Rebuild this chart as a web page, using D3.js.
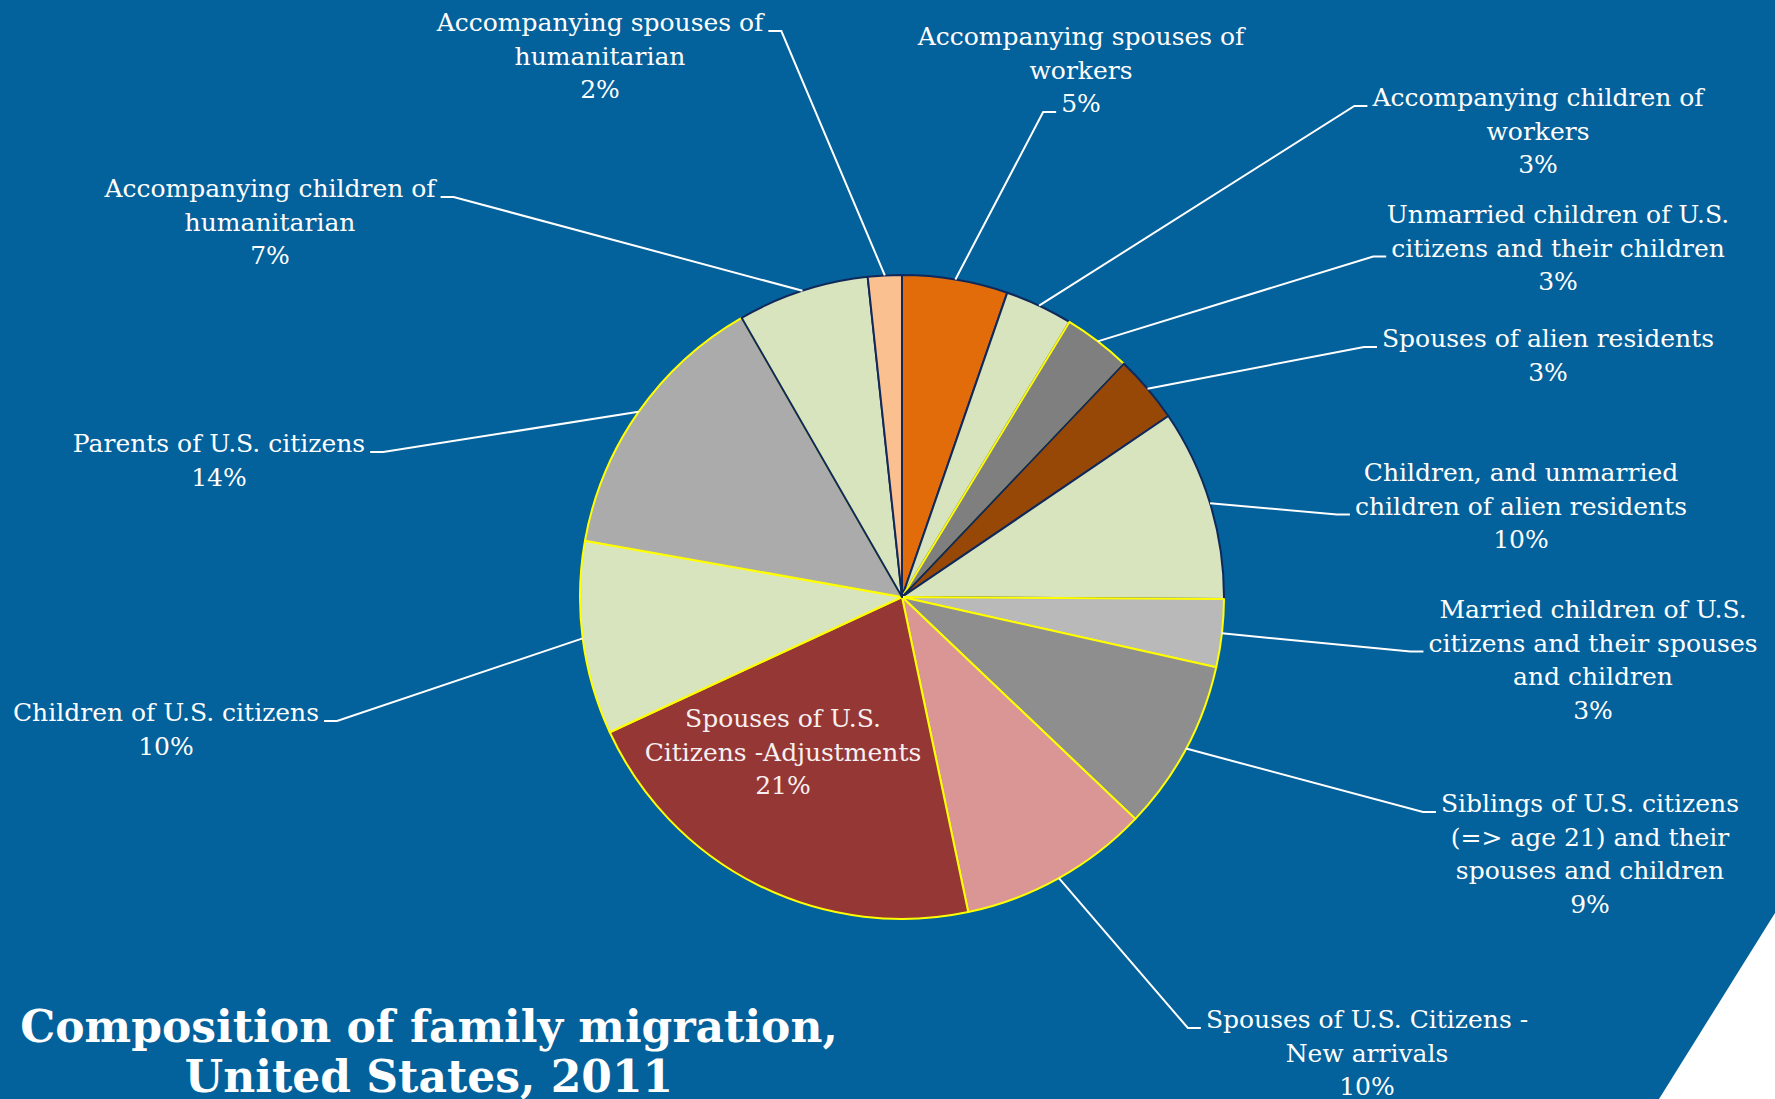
<html>
<head>
<meta charset="utf-8">
<title>Composition of family migration</title>
<style>
body{margin:0;background:#03619b;}
svg{display:block;}
</style>
<script src="https://d3js.org/d3.v7.min.js"></script>
</head>
<body>
<svg width="1775" height="1099"></svg>
<script>
// data, clockwise from 12 o'clock
var categories = [
  "Accompanying spouses of\nworkers",
  "Accompanying children of\nworkers",
  "Unmarried children of U.S.\ncitizens and their children",
  "Spouses of alien residents",
  "Children, and unmarried\nchildren of alien residents",
  "Married children of U.S.\ncitizens and their spouses\nand children",
  "Siblings of U.S. citizens\n(=> age 21) and their\nspouses and children",
  "Spouses of U.S. Citizens -\nNew arrivals",
  "Spouses of U.S.\nCitizens -Adjustments",
  "Children of U.S. citizens",
  "Parents of U.S. citizens",
  "Accompanying children of\nhumanitarian",
  "Accompanying spouses of\nhumanitarian"
];
var values = [5.3, 3.4, 3.4, 3.4, 9.6, 3.4, 8.6, 9.6, 21.4, 9.7, 13.9, 6.6, 1.7];
var titleLines = ["Composition of family migration,", "United States, 2011"];

// styles
var fills = ["#e36c0a","#d7e4bd","#7f7f7f","#974806","#d7e4bd","#b9b9b9","#8e8e8e",
             "#d99694","#953735","#d7e4bd","#ababab","#d7e4bd","#fac090"];
var navy = "#10295a", yellow = "#ffff00";
var strokes = [navy, navy, yellow, navy, navy, yellow, yellow, yellow, yellow, yellow, yellow, navy, navy];

// label placement: centre x, first baseline, line carrying the leader tick, tick side
var labelLayout = [
  {x:1081, y:45,  tick:2, side:"L"},
  {x:1538, y:106, tick:0, side:"L"},
  {x:1558, y:223, tick:1, side:"L"},
  {x:1548, y:347, tick:0, side:"L"},
  {x:1521, y:481, tick:1, side:"L"},
  {x:1593, y:618, tick:1, side:"L"},
  {x:1590, y:812, tick:0, side:"L"},
  {x:1367, y:1028, tick:0, side:"L"},
  {x:783,  y:727, tick:null, side:null},
  {x:166,  y:721, tick:0, side:"R"},
  {x:219,  y:452, tick:0, side:"R"},
  {x:270,  y:197, tick:0, side:"R"},
  {x:600,  y:31,  tick:0, side:"R"}
];

var svg = d3.select("svg"),
    W = +svg.attr("width"), H = +svg.attr("height"),
    cx = 902, cy = 597, r = 322,
    lineH = 33.5,
    labelFont = "'DejaVu Serif', Georgia, serif";

svg.append("rect").attr("width", W).attr("height", H).attr("fill", "#03619b");
svg.append("path")
    .attr("d", d3.line()([[W, 913], [W, H], [1659, H]]) + "Z")
    .attr("fill", "#ffffff");

var total = d3.sum(values);
var pie = d3.pie().sort(null).value(d => d);
var arcs = pie(values);
var arc = d3.arc().innerRadius(0).outerRadius(r);
var edge = d3.arc().innerRadius(r).outerRadius(r);

var g = svg.append("g").attr("transform", `translate(${cx},${cy})`);
g.selectAll("path.slice")
    .data(arcs)
  .enter().append("path")
    .attr("class", "slice")
    .attr("d", arc)
    .attr("fill", (d, i) => fills[i])
    .attr("stroke", (d, i) => strokes[i])
    .attr("stroke-width", 2)
    .attr("stroke-linejoin", "round");

// labels + leaders
var labels = svg.append("g");
arcs.forEach(function(d, i) {
    var lay = labelLayout[i];
    var lines = categories[i].split("\n");
    lines.push(Math.round(values[i] / total * 100) + "%");
    var lg = labels.append("g");
    var widths = [];
    lines.forEach(function(t, k) {
        var tx = lg.append("text")
            .attr("x", lay.x)
            .attr("y", lay.y + k * lineH)
            .attr("text-anchor", "middle")
            .attr("font-family", labelFont)
            .attr("font-size", 25)
            .attr("fill", i == 8 ? "#f7f0f0" : "#ffffff")
            .text(t);
        widths.push(tx.node().getComputedTextLength());
    });
    if (lay.tick === null) return;
    var by = lay.y + lay.tick * lineH,
        half = widths[lay.tick] / 2,
        inner, outer;
    if (lay.side == "L") {
        inner = lay.x - half - 5; outer = inner - 13;
    } else {
        inner = lay.x + half + 5; outer = inner + 13;
    }
    var p = edge.centroid(d);
    lg.append("path")
        .attr("d", d3.line()([[p[0] + cx, p[1] + cy], [outer, by], [inner, by]]))
        .attr("fill", "none")
        .attr("stroke", "#ffffff")
        .attr("stroke-width", 2);
});

// title
svg.append("g").selectAll("text")
    .data(titleLines)
  .enter().append("text")
    .attr("x", 429)
    .attr("y", (d, i) => 1042 + i * 50)
    .attr("text-anchor", "middle")
    .attr("font-family", labelFont)
    .attr("font-weight", "bold")
    .attr("font-size", 44)
    .attr("fill", "#ffffff")
    .text(d => d);
</script>
</body>
</html>
